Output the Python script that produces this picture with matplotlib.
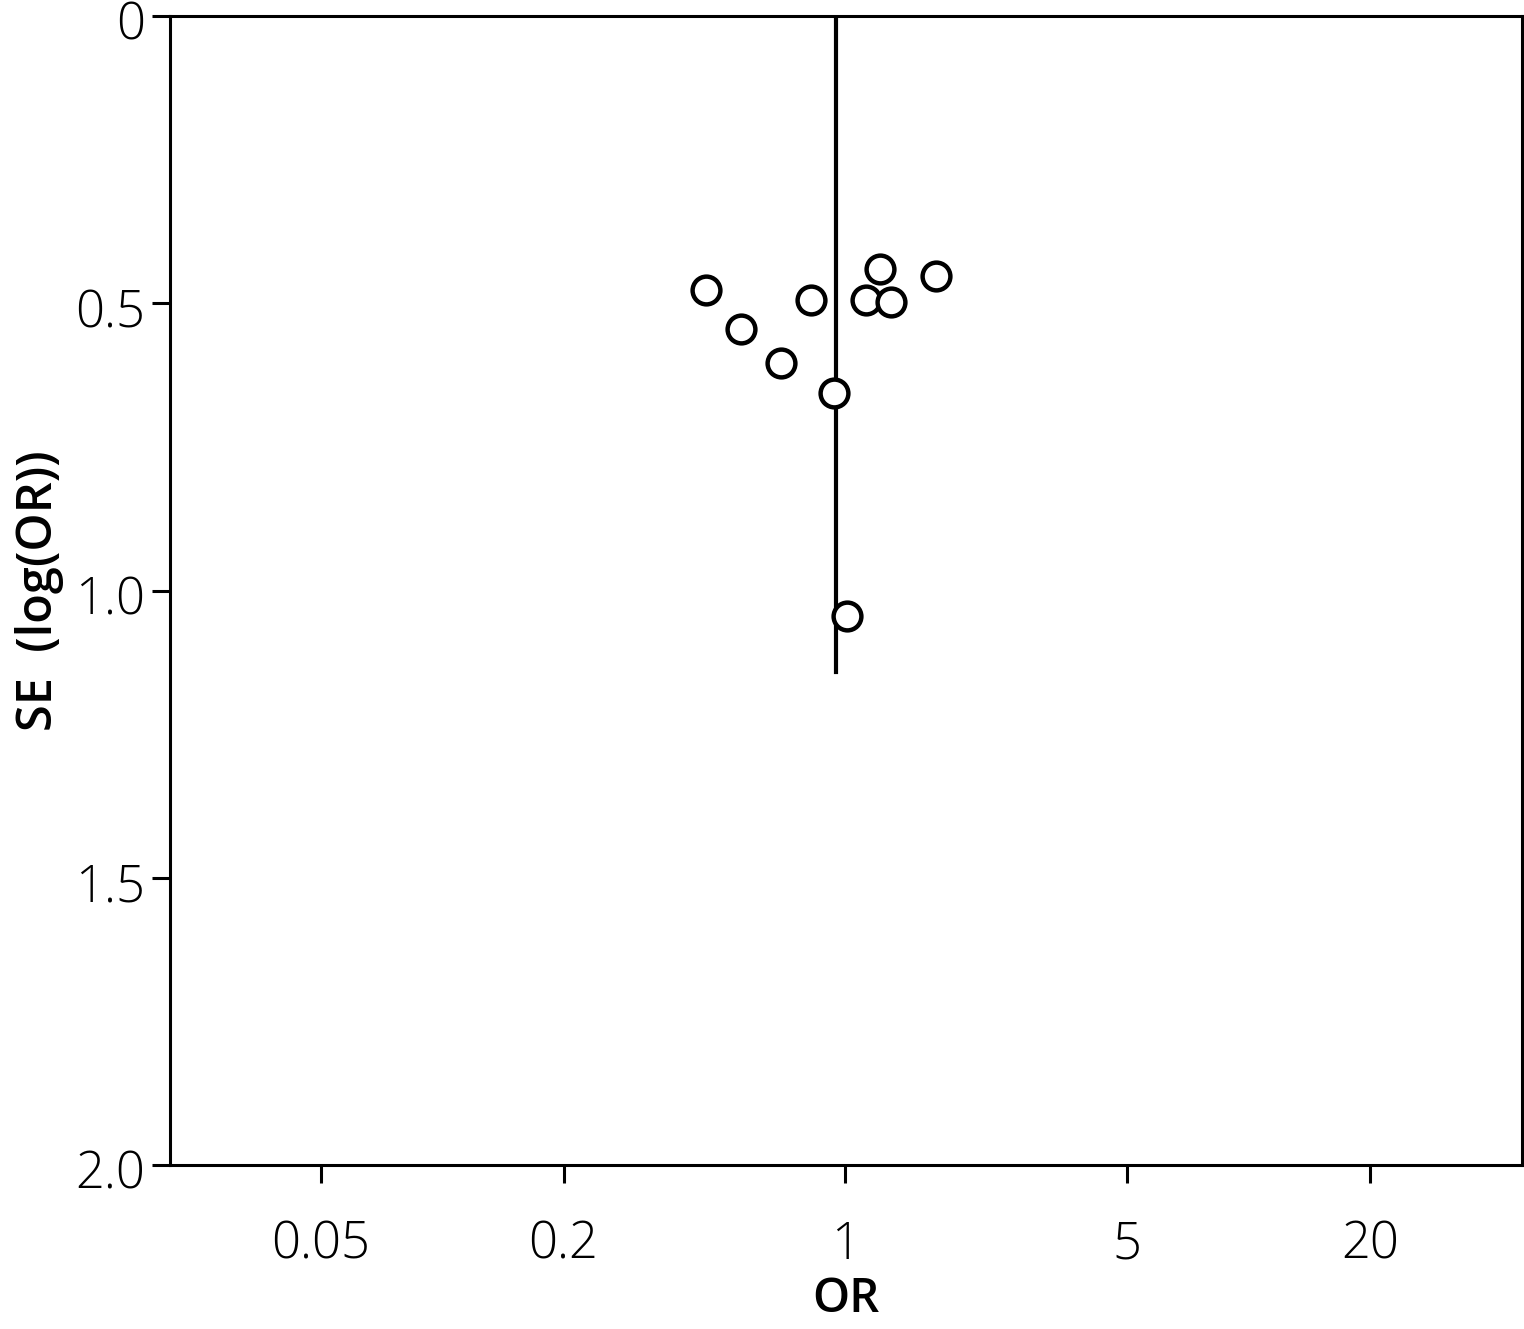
import matplotlib
matplotlib.use("Agg")
import matplotlib.pyplot as plt
import matplotlib.transforms as mtransforms
from matplotlib.ticker import FixedLocator, FixedFormatter, NullLocator
import numpy as np

# Data
odds_ratio = [0.452, 0.552, 0.694, 0.823, 0.939, 1.127, 1.221, 1.30, 1.68, 1.01]
se_log_or = [0.477, 0.545, 0.604, 0.494, 0.656, 0.494, 0.440, 0.498, 0.453, 1.044]
pooled_or = 0.95
line_se_max = 1.142
x_ticks = [0.05, 0.2, 1, 5, 20]
x_tick_labels = ["0.05", "0.2", "1", "5", "20"]
y_ticks = [0, 0.5, 1.0, 1.5, 2.0]
y_tick_labels = ["0", "0.5", "1.0", "1.5", "2.0"]

plt.rcParams['font.family'] = ['Open Sans', 'DejaVu Sans']

fig = plt.figure(figsize=(15.24, 13.29), dpi=100)
ax = fig.add_axes([170/1524, 1 - 1165/1329, (1522-170)/1524, (1165-16)/1329])

ax.plot([pooled_or, pooled_or], [0, line_se_max], color='black', lw=3, zorder=2)
ax.plot(odds_ratio, se_log_or, 'o', ms=20, mfc='white', mec='black', mew=3.2, zorder=3, linestyle='none')

ax.set_xscale('log')
ax.set_xlim(10**-1.675, 10**1.678)
ax.set_ylim(2.0, 0)

ax.xaxis.set_major_locator(FixedLocator(x_ticks))
ax.xaxis.set_major_formatter(FixedFormatter(x_tick_labels))
ax.xaxis.set_minor_locator(NullLocator())
ax.yaxis.set_major_locator(FixedLocator(y_ticks))
ax.yaxis.set_major_formatter(FixedFormatter(y_tick_labels))

for s in ax.spines.values():
    s.set_linewidth(2.2)

ax.tick_params(axis='both', direction='out', length=13, width=2.2, labelsize=36.5)
ax.tick_params(axis='x', pad=26)
ax.tick_params(axis='y', pad=5)
for lab in ax.get_xticklabels() + ax.get_yticklabels():
    lab.set_fontweight(300)

shift = mtransforms.ScaledTranslation(0, -4/100, fig.dpi_scale_trans)
for lab in ax.get_yticklabels():
    lab.set_transform(lab.get_transform() + shift)

ax.set_xlabel('OR', fontsize=34, fontweight=600, labelpad=4)
ax.set_ylabel('SE  (log(OR))', fontsize=35, fontweight=600, labelpad=8)

fig.savefig('out.png', dpi=100)
